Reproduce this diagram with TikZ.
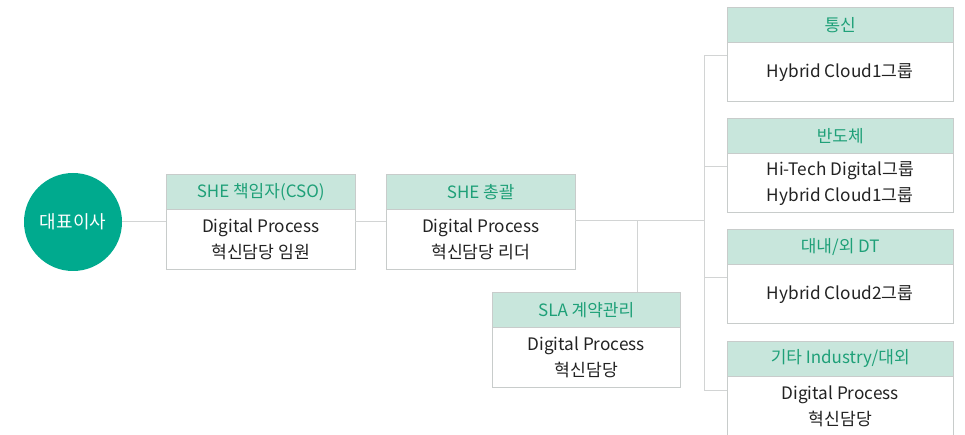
\documentclass[tikz,border=0pt]{standalone}
\usepackage{fontspec}
\setmainfont{Noto Sans CJK KR}
\usetikzlibrary{positioning}
\definecolor{ceogreen}{RGB}{0,170,142}
\definecolor{mint}{RGB}{200,230,220}
\definecolor{headtext}{RGB}{30,160,120}
\definecolor{bodytext}{RGB}{34,34,34}
\definecolor{boxgray}{RGB}{200,204,203}
\definecolor{linegray}{RGB}{210,212,212}
\begin{document}
\begin{tikzpicture}[x=1pt,y=-1pt,
  ceo/.style={circle,fill=ceogreen,minimum size=98pt,inner sep=0pt,text=white,font=\fontsize{18}{20}\selectfont},
  head/.style={draw=boxgray,fill=mint,text=headtext,minimum height=35pt,inner sep=0pt,anchor=north west,font=\fontsize{17}{20}\selectfont},
  body/.style={draw=boxgray,fill=white,text=bodytext,minimum height=60pt,inner sep=0pt,align=center,font=\fontsize{17.2}{26}\selectfont},
  link/.style={draw=linegray,line width=1pt}]
\useasboundingbox (0,0) rectangle (965,435);
\node[ceo] (ceo) at (73,222) {대표이사};
% chain of SHE boxes
\node[head,minimum width=189pt] (cso-h) at (166,174) {SHE 책임자(CSO)};
\node[body,minimum width=189pt,below=0pt of cso-h] (cso) {Digital Process\\혁신담당 임원};
\node[head,minimum width=189pt] (lead-h) at (386,174) {SHE 총괄};
\node[body,minimum width=189pt,below=0pt of lead-h] (lead) {Digital Process\\혁신담당 리더};
\node[head,minimum width=188pt] (sla-h) at (492,292) {SLA 계약관리};
\node[body,minimum width=188pt,below=0pt of sla-h] (sla) {Digital Process\\혁신담당};
% right column
\node[head,minimum width=226pt] (tel-h) at (727,7) {통신};
\node[body,minimum width=226pt,minimum height=59pt,below=0pt of tel-h] (tel) {Hybrid Cloud1그룹};
\node[head,minimum width=226pt] (semi-h) at (727,118) {반도체};
\node[body,minimum width=226pt,minimum height=59pt,below=0pt of semi-h] (semi) {Hi-Tech Digital그룹\\Hybrid Cloud1그룹};
\node[head,minimum width=226pt] (dt-h) at (727,229) {대내/외 DT};
\node[body,minimum width=226pt,minimum height=59pt,below=0pt of dt-h] (dt) {Hybrid Cloud2그룹};
\node[head,minimum width=226pt] (etc-h) at (727,341) {기타 Industry/대외};
\node[body,minimum width=226pt,below=0pt of etc-h] (etc) {Digital Process\\혁신담당};
% connectors
\coordinate (hub) at (704,221);
\coordinate (slajoin) at (637,221);
\draw[link] (ceo) -- (ceo -| cso.west);
\draw[link] (cso.east |- ceo) -- (lead.west |- ceo);
\draw[link] (lead.east |- hub) -- (hub);
\draw[link] (slajoin) -- (slajoin |- sla-h.north);
\foreach \n in {tel,semi,dt,etc}
  \draw[link] ([yshift=-49pt]\n-h.north west) -- ([yshift=-49pt]\n-h.north west -| hub);
\draw[link] ([yshift=-49pt]tel-h.north west -| hub) -- ([yshift=-49pt]etc-h.north west -| hub);
\end{tikzpicture}
\end{document}
